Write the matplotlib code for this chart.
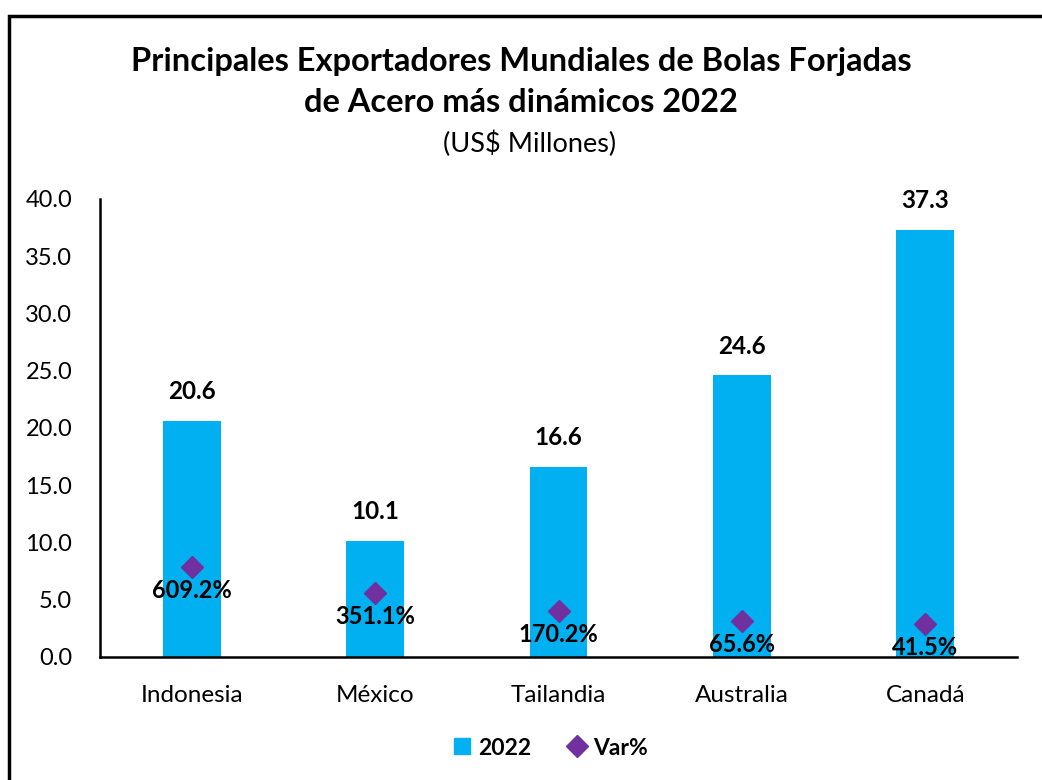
import matplotlib.pyplot as plt
from matplotlib.patches import Rectangle
from matplotlib.lines import Line2D

plt.rcParams['font.family'] = ['Lato', 'DejaVu Sans']

paises = ['Indonesia', 'México', 'Tailandia', 'Australia', 'Canadá']
valores_2022 = [20.6, 10.1, 16.6, 24.6, 37.3]
var_pct = [609.2, 351.1, 170.2, 65.6, 41.5]
y_ticks = [0, 5, 10, 15, 20, 25, 30, 35, 40]

azul = '#00B0F0'
morado = '#7030A0'

fig = plt.figure(figsize=(10.42, 7.8), dpi=100)
ax = fig.add_axes([0.096, 0.158, 0.880, 0.587])

x = list(range(len(paises)))
ax.bar(x, valores_2022, width=0.315, color=azul, zorder=2)
for xi, v in zip(x, valores_2022):
    ax.annotate(f'{v:.1f}', (xi, v), xytext=(0, 21), textcoords='offset points',
                ha='center', va='center', fontsize=17.5, fontweight='bold')

ax.set_xlim(-0.5, len(paises) - 0.5)
ax.set_ylim(0, 40)
ax.set_yticks(y_ticks)
ax.set_yticklabels([f'{t:.1f}' for t in y_ticks], fontsize=17)
ax.set_xticks(x)
ax.set_xticklabels(paises, fontsize=17.5)
ax.tick_params(axis='both', length=0)
ax.tick_params(axis='x', pad=20)
ax.tick_params(axis='y', pad=20)
for s in ['top', 'right']:
    ax.spines[s].set_visible(False)
ax.spines['left'].set_linewidth(1.8)
ax.spines['bottom'].set_linewidth(1.8)

# eje secundario para Var%
ax2 = ax.twinx()
ax2.set_ylim(-288.8, 4275)
ax2.axis('off')
ax2.plot(x, var_pct, linestyle='none', marker='D', markersize=11, color=morado, zorder=3)
for xi, v in zip(x, var_pct):
    ax2.annotate(f'{v:.1f}%', (xi, v), xytext=(0, -17), textcoords='offset points',
                 ha='center', va='center', fontsize=17, fontweight='bold')

fig.text(0.5, 0.921, 'Principales Exportadores Mundiales de Bolas Forjadas',
         ha='center', va='center', fontsize=23.5, fontweight='bold')
fig.text(0.5, 0.868, 'de Acero más dinámicos 2022',
         ha='center', va='center', fontsize=23.5, fontweight='bold')
fig.text(0.508, 0.816, '(US$ Millones)', ha='center', va='center', fontsize=19.5)

handles = [Line2D([], [], linestyle='none', marker='s', markersize=12, color=azul),
           Line2D([], [], linestyle='none', marker='D', markersize=11, color=morado)]
fig.legend(handles, ['2022', 'Var%'], loc='center', bbox_to_anchor=(0.527, 0.041),
           ncol=2, frameon=False, prop={'size': 16.5, 'weight': 'bold'},
           handletextpad=0.2, columnspacing=1.5, handlelength=1.0)

# marco del gráfico
fig.patches.append(Rectangle((0.009, -0.2), 1.2, 1.18, transform=fig.transFigure,
                             fill=False, edgecolor='black', linewidth=2.5))

fig.savefig('out.png', dpi=100)
